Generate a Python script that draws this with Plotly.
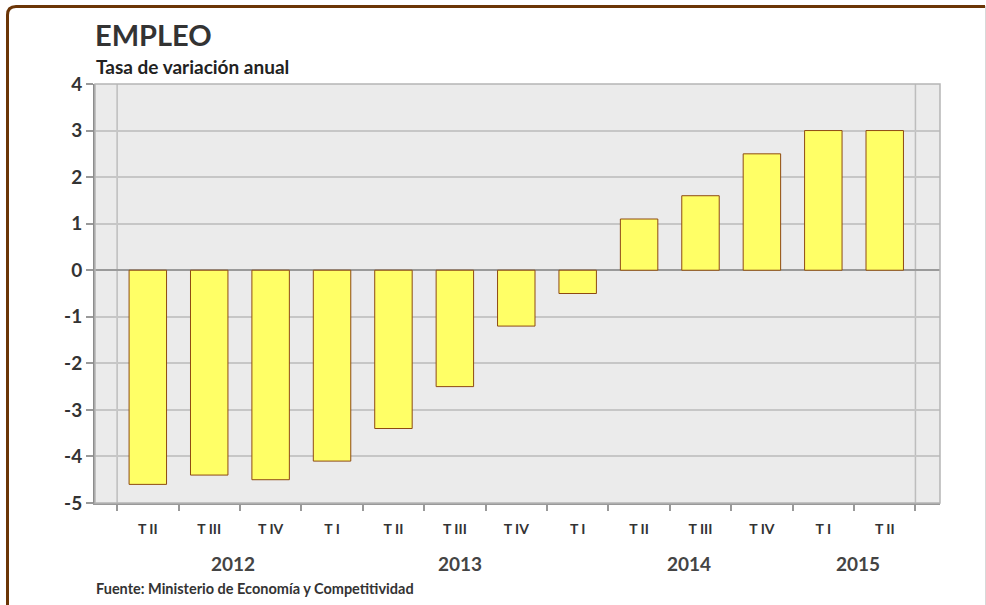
import plotly.graph_objects as go

quarters = ["T II", "T III", "T IV", "T I", "T II", "T III", "T IV",
            "T I", "T II", "T III", "T IV", "T I", "T II"]
values = [-4.6, -4.4, -4.5, -4.1, -3.4, -2.5, -1.2, -0.5, 1.1, 1.6, 2.5, 3.0, 3.0]
years = ["2012", "2013", "2014", "2015"]
year_pos = [1.38, 5.08, 8.82, 11.57]
y_ticks = [4, 3, 2, 1, 0, -1, -2, -3, -4, -5]

# body margin is removed below, so figure pixels == window pixels
W, H = 986, 605
L, T = 95, 84
R = W - 940
B = H - 503
pw, ph = W - L - R, H - T - B


def px(x):
    return (x - L) / pw


def py(y):
    return (H - B - y) / ph


font = "Lato, 'Open Sans', sans-serif"
dark = "#333333"

fig = go.Figure()
fig.add_trace(go.Bar(
    x=list(range(len(values))),
    y=values,
    width=0.61,
    marker=dict(color="#FFFF66", line=dict(color="#8E4A12", width=1)),
    hoverinfo="y",
))

shapes = [
    # vertical lines at first and last category boundaries
    dict(type="line", xref="x", yref="paper", x0=-0.5, x1=-0.5, y0=0, y1=1,
         line=dict(color="#BDBDBD", width=1.5), layer="below"),
    dict(type="line", xref="x", yref="paper", x0=len(values) - 0.5, x1=len(values) - 0.5,
         y0=0, y1=1, line=dict(color="#BDBDBD", width=1.5), layer="below"),
    # plot frame
    dict(type="rect", xref="paper", yref="paper", x0=0, x1=1, y0=0, y1=1,
         line=dict(color="#B5B5B5", width=1.5), layer="above"),
    # outer brown frame with rounded corner
    dict(type="path", xref="paper", yref="paper",
         path=f"M {px(7.5)},{py(640)} L {px(7.5)},{py(15)} "
              f"Q {px(7.5)},{py(6.5)} {px(16)},{py(6.5)} L {px(985)},{py(6.5)}",
         line=dict(color="#6B3506", width=3)),
    dict(type="line", xref="paper", yref="paper", x0=px(985.5), x1=px(985.5),
         y0=py(6), y1=py(640), line=dict(color="#D8D8D8", width=1)),
]

annotations = [
    dict(text="<b>EMPLEO</b>", xref="paper", yref="paper", x=px(93), y=py(35),
         xanchor="left", yanchor="middle", showarrow=False,
         font=dict(family=font, size=29, color=dark)),
    dict(text="<b>Tasa de variación anual</b>", xref="paper", yref="paper", x=px(94), y=py(67),
         xanchor="left", yanchor="middle", showarrow=False,
         font=dict(family=font, size=19, color="#222222")),
    dict(text="<b>Fuente: Ministerio de Economía y Competitividad</b>", xref="paper", yref="paper",
         x=px(94), y=py(588), xanchor="left", yanchor="middle", showarrow=False,
         font=dict(family=font, size=14.5, color=dark)),
]
for yr, pos in zip(years, year_pos):
    annotations.append(dict(text=f"<b>{yr}</b>", xref="x", yref="paper", x=pos, y=py(563),
                            xanchor="center", yanchor="middle", showarrow=False,
                            font=dict(family=font, size=19, color="#444444")))

fig.update_xaxes(
    range=[-0.86, len(values) - 0.5 + 0.4],
    tickmode="array",
    tickvals=list(range(len(values))),
    ticktext=quarters,
    ticks="",
    ticklabelstandoff=12,
    tickfont=dict(family=font, size=14, color=dark, weight="bold"),
    showgrid=False,
    zeroline=False,
    showline=True,
    linecolor="#999999",
    linewidth=2,
    minor=dict(tickmode="array", tickvals=[i - 0.5 for i in range(len(values) + 1)],
               ticks="outside", ticklen=6, tickcolor="#999999", tickwidth=1.5, showgrid=False),
    fixedrange=True,
)
fig.update_yaxes(
    range=[-5, 4],
    tickmode="array",
    tickvals=y_ticks,
    ticktext=[str(v) for v in y_ticks],
    ticks="outside",
    ticklen=7,
    tickcolor="#999999",
    tickwidth=1.5,
    tickfont=dict(family=font, size=19, color=dark, weight="bold"),
    showgrid=True,
    gridcolor="#C6C6C6",
    gridwidth=1.5,
    zeroline=True,
    zerolinecolor="#9A9A9A",
    zerolinewidth=1.5,
    showline=True,
    linecolor="#8C8C8C",
    linewidth=2,
    fixedrange=True,
)

fig.update_layout(
    width=W,
    height=H,
    margin=dict(l=L, r=R, t=T, b=B),
    plot_bgcolor="#EBEBEB",
    paper_bgcolor="white",
    showlegend=False,
    bargap=0.39,
    shapes=shapes,
    annotations=annotations,
)

fig.write_html("out.html", post_script="document.body.style.margin = '0';",
               config={"displayModeBar": False})
